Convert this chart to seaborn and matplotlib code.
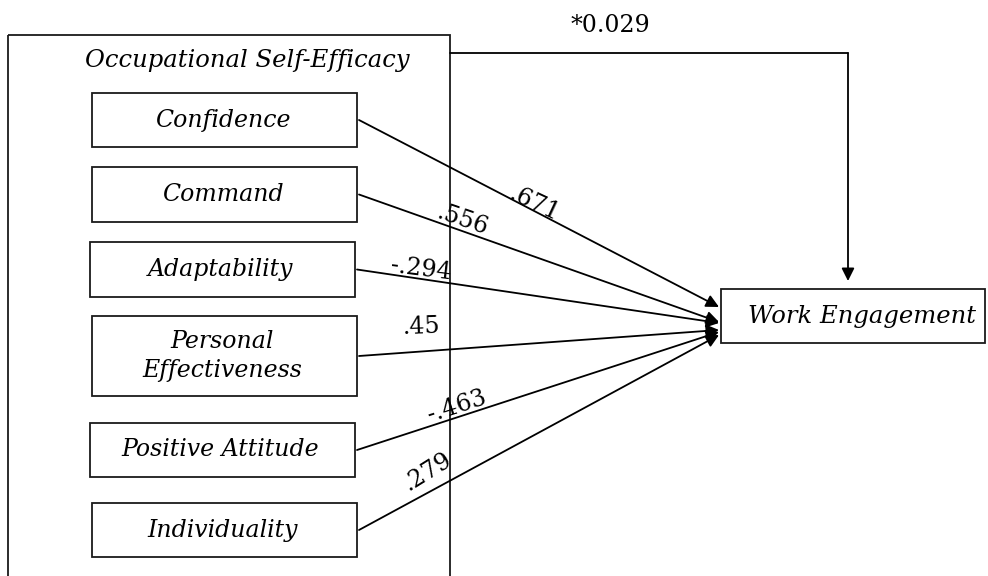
import matplotlib
matplotlib.use("Agg")
import matplotlib.pyplot as plt
import matplotlib.patches as patches
import seaborn as sns

# path model data
dimensoes = ['Confidence', 'Command', 'Adaptability', 'Personal\nEffectiveness',
             'Positive Attitude', 'Individuality']
coeficientes = ['.671', '.556', '-.294', '.45', '-.463', '.279']
construto = 'Occupational Self-Efficacy'
resultado = 'Work Engagement'
efeito_direto = '*0.029'

# layout (pixel coordinates, y downwards)
caixas_y = [(93, 147), (167, 222), (242, 297), (316, 396), (423, 477), (503, 557)]
caixas_x = [(92, 357), (92, 357), (90, 355), (92, 357), (90, 355), (92, 357)]
fim_y = [307, 322, 323, 330, 332, 335]
rotulo_pos = [(534, 204), (463, 220), (421, 269), (421, 327), (457, 406), (428, 471)]
rotulo_rot = [-25, -19, -7, 2, 18, 32]

sns.set_style("white")
plt.rcParams['font.family'] = ['DejaVu Serif']
plt.rcParams['text.color'] = 'black'

fig = plt.figure(figsize=(9.88, 5.76), dpi=100)
ax = fig.add_axes([0, 0, 1, 1])
ax.set_xlim(0, 988)
ax.set_ylim(576, 0)
ax.axis('off')

lw = 1.3
cor = '#1a1a1a'
# outer box
ax.add_patch(patches.Rectangle((8, 35), 442, 600, fill=False, lw=lw, ec=cor))
ax.text(247, 61, construto, ha='center', va='center', style='italic', fontsize=17.5)

for nome, (y0, y1), (x0, x1), fy, pos, rot, coef in zip(
        dimensoes, caixas_y, caixas_x, fim_y, rotulo_pos, rotulo_rot, coeficientes):
    ax.add_patch(patches.Rectangle((x0, y0), x1 - x0, y1 - y0, fill=False, lw=lw, ec=cor))
    ax.text((x0 + x1) / 2 - 2, (y0 + y1) / 2, nome, ha='center', va='center',
            style='italic', fontsize=17, linespacing=1.35)
    ax.annotate('', xy=(719, fy), xytext=(x1 + 2, (y0 + y1) / 2),
                arrowprops=dict(arrowstyle='-|>', lw=lw, color='black',
                                mutation_scale=19, shrinkA=0, shrinkB=0))
    ax.text(pos[0], pos[1], coef, ha='center', va='center', rotation=rot,
            rotation_mode='anchor', fontsize=17)

# outcome box
ax.add_patch(patches.Rectangle((721, 289), 264, 54, fill=False, lw=lw, ec=cor))
ax.text(862, 316, resultado, ha='center', va='center', style='italic', fontsize=17.5)

# direct path
ax.plot([450, 848], [53, 53], color='black', lw=lw)
ax.annotate('', xy=(848, 281), xytext=(848, 53),
            arrowprops=dict(arrowstyle='-|>', lw=lw, color='black',
                            mutation_scale=19, shrinkA=0, shrinkB=0))
ax.text(610, 26, efeito_direto, ha='center', va='center', fontsize=17)

fig.savefig('out.png', dpi=100)
plt.close(fig)
